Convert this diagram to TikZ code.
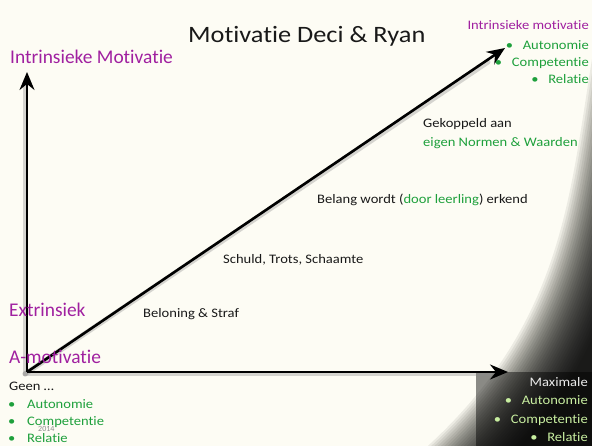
\documentclass[tikz,border=0pt]{standalone}
\usepackage{fontspec}
\setmainfont{Carlito}[RawFeature=-liga, FakeStretch=1.12]
\newfontfamily\plainfont{Carlito}[RawFeature=-liga]
\usetikzlibrary{arrows.meta}
\definecolor{cream}{RGB}{253,252,244}
\definecolor{purp}{RGB}{160,32,160}
\definecolor{grn}{RGB}{30,160,60}
\definecolor{lgrn}{RGB}{200,238,160}
\definecolor{ink}{RGB}{25,25,25}
\begin{document}
\begin{tikzpicture}[x=1pt,y=-1pt,
  txt/.style={font=\fontsize{13}{15}\selectfont, text=ink, inner sep=0pt, anchor=base west},
  big/.style={font=\plainfont\fontsize{19.4}{21}\selectfont, text=purp, inner sep=0pt, anchor=base west},
  axis/.style={line width=2.6pt, draw=black, -{Stealth[length=18pt,width=15pt,inset=6pt]}},
  shadowline/.style={line width=5pt, draw=black!45, opacity=0.35, line cap=round}
]
\useasboundingbox (0,0) rectangle (592,446);
\begin{scope}
\clip (0,0) rectangle (592,446);
\fill[cream] (0,0) rectangle (592,446);
\foreach \s in {0,...,29}{
  \fill[black, opacity=0.068, shift={(\s*2,\s*1.2)}]
    (597,30) .. controls (568,190) and (572,330) .. (400,470)
    -- (720,470) -- (720,30) -- cycle;
}
\fill[black, opacity=0.45] (476,372) rectangle (592,446);
\end{scope}

\coordinate (O) at (27,372);
\coordinate (Ytip) at (27,72);
\coordinate (Xtip) at (508,372);
\coordinate (Dtip) at (505,48);
\coordinate (Ys) at (25,86);
\coordinate (Xs) at (490,374);
\coordinate (Ds) at (488,62);
\coordinate (Os) at (25,374);

\draw[shadowline] (Os) -- (Ys);
\draw[shadowline] (Os) -- (Xs);
\draw[shadowline] (Os) -- (Ds);
\draw[axis] (O) -- (Ytip);
\draw[axis] (O) -- (Xtip);
\draw[axis] (O) -- (Dtip);

\node[font=\fontsize{23.5}{26}\selectfont, text=ink, inner sep=0pt, anchor=base west] (title) at (188,43) {Motivatie Deci \& Ryan};

\node[big] (intr) at (10,64) {Intrinsieke Motivatie};
\node[big] (extr) at (9,316.7) {Extrinsiek};
\node[big] (amot) at (9,363.3) {A-motivatie};

\node[txt] (geen) at (9,391) {Geen …};
\node[txt, text=grn] (la) at (8,409) {\makebox[19pt][l]{•}Autonomie};
\node[txt, text=grn] (lc) at (8,425.3) {\makebox[19pt][l]{•}Competentie};
\node[txt, text=grn] (lr) at (8,442.7) {\makebox[19pt][l]{•}Relatie};
\node[font=\plainfont\fontsize{8}{9}\selectfont, text=black!45, inner sep=0pt, anchor=base west] (year) at (38,431.7) {2014};

\node[txt] (bel) at (143,318) {Beloning \& Straf};
\node[txt] (sch) at (223,263.3) {Schuld, Trots, Schaamte};
\node[txt] (erk) at (317,204) {Belang wordt ({\color{grn}door leerling}) erkend};
\node[txt] (gek) at (423,128) {Gekoppeld aan};
\node[txt, text=grn] (eig) at (423,146.7) {eigen Normen \& Waarden};

\node[txt, anchor=base east, text=purp] (ti) at (589,30) {Intrinsieke motivatie};
\node[txt, anchor=base east, text=grn] (ta) at (589,50) {\makebox[17pt][l]{•}Autonomie};
\node[txt, anchor=base east, text=grn] (tc) at (589,67) {\makebox[17pt][l]{•}Competentie};
\node[txt, anchor=base east, text=grn] (tr) at (589,84) {\makebox[17pt][l]{•}Relatie};

\node[txt, anchor=base east, text=black!8] (mx) at (588,386.7) {Maximale};
\node[txt, anchor=base east, text=lgrn] (ma) at (588,405) {\makebox[17pt][l]{•}Autonomie};
\node[txt, anchor=base east, text=lgrn] (mc) at (588,423) {\makebox[17pt][l]{•}Competentie};
\node[txt, anchor=base east, text=lgrn] (mr) at (588,441.7) {\makebox[17pt][l]{•}Relatie};
\end{tikzpicture}
\end{document}
